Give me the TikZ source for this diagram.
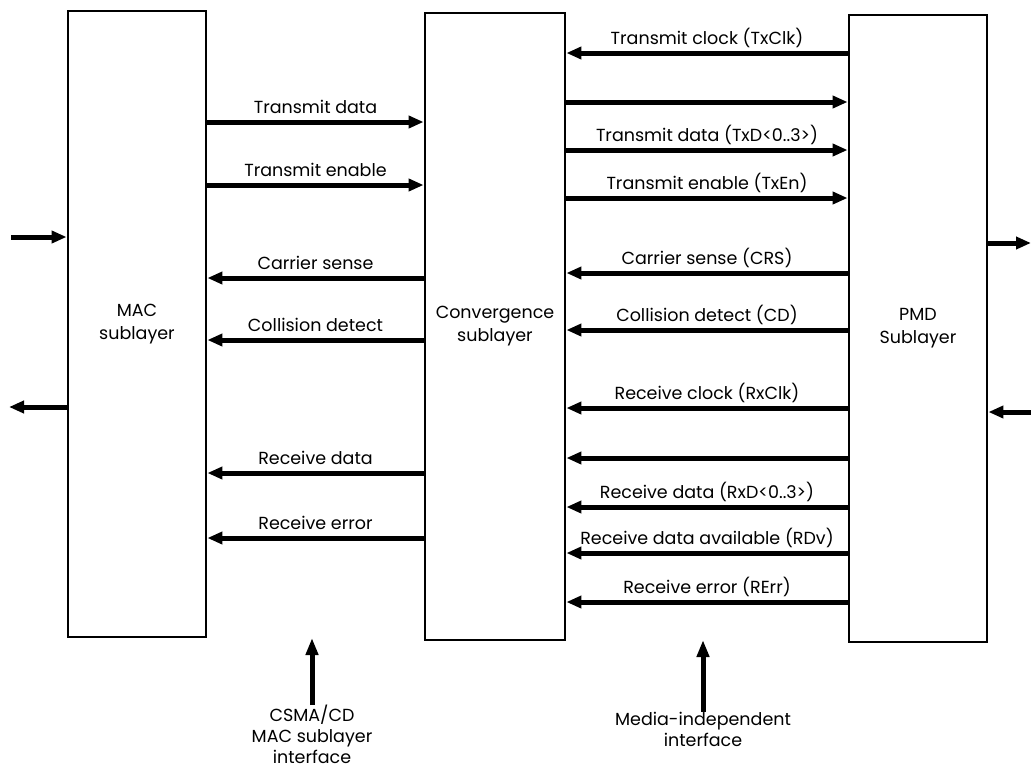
\documentclass[tikz,border=0pt]{standalone}
\usepackage{fontspec}
\setmainfont{Poppins}
\usetikzlibrary{arrows.meta}
\begin{document}
\begin{tikzpicture}[x=1pt,y=-1pt,
  box/.style={draw, line width=2.8pt, rectangle, inner sep=0pt, align=center, font=\fontsize{17.5}{23}\selectfont},
  sig/.style={line width=5pt, -{Triangle[length=15pt,width=12pt]}},
  lbl/.style={font=\fontsize{17.5}{20}\selectfont, inner sep=0pt, anchor=base, yshift=9pt},
  upsig/.style={line width=5pt, -{Triangle[length=17pt,width=12pt]}},
  note/.style={font=\fontsize{17.5}{21}\selectfont, align=center, inner sep=0pt, anchor=north}]
\useasboundingbox (0,0) rectangle (1031,772);

% three sublayer blocks
\node[box, minimum width=138pt, minimum height=626pt] (mac)  at (137,324) {MAC\\sublayer};
\node[box, minimum width=140pt, minimum height=627pt] (conv) at (495,326.5) {Convergence\\sublayer};
\node[box, minimum width=138pt, minimum height=627pt] (pmd)  at (918,328.5) {PMD\\Sublayer};

% free ends of the outer signals
\coordinate (lin)  at (11,237);
\coordinate (lout) at (9,407);
\coordinate (rout) at (1031,243);
\coordinate (rin)  at (1031,412);

\draw[sig] (lin) -- (mac.west |- lin);
\draw[sig] (mac.west |- lout) -- (lout);
\draw[sig] (pmd.east |- rout) -- (rout);
\draw[sig] (rin) -- (pmd.east |- rin);

% MAC <-> convergence sublayer interface
\draw[sig] (mac.east |- 0,122) -- node[lbl] {Transmit data} (conv.west |- 0,122);
\draw[sig] (mac.east |- 0,185) -- node[lbl] {Transmit enable} (conv.west |- 0,185);
\draw[sig] (conv.west |- 0,278) -- node[lbl] {Carrier sense} (mac.east |- 0,278);
\draw[sig] (conv.west |- 0,340) -- node[lbl] {Collision detect} (mac.east |- 0,340);
\draw[sig] (conv.west |- 0,473) -- node[lbl] {Receive data} (mac.east |- 0,473);
\draw[sig] (conv.west |- 0,538) -- node[lbl] {Receive error} (mac.east |- 0,538);

% media-independent interface
\draw[sig] (pmd.west |- 0,53) -- node[lbl] {Transmit clock (TxClk)} (conv.east |- 0,53);
\draw[sig] (conv.east |- 0,102) -- (pmd.west |- 0,102);
\draw[sig] (conv.east |- 0,150) -- node[lbl] {Transmit data (TxD<0..3>)} (pmd.west |- 0,150);
\draw[sig] (conv.east |- 0,198) -- node[lbl] {Transmit enable (TxEn)} (pmd.west |- 0,198);
\draw[sig] (pmd.west |- 0,273) -- node[lbl] {Carrier sense (CRS)} (conv.east |- 0,273);
\draw[sig] (pmd.west |- 0,330) -- node[lbl] {Collision detect (CD)} (conv.east |- 0,330);
\draw[sig] (pmd.west |- 0,408) -- node[lbl] {Receive clock (RxClk)} (conv.east |- 0,408);
\draw[sig] (pmd.west |- 0,458) -- (conv.east |- 0,458);
\draw[sig] (pmd.west |- 0,507) -- node[lbl] {Receive data (RxD<0..3>)} (conv.east |- 0,507);
\draw[sig] (pmd.west |- 0,553) -- node[lbl] {Receive data available (RDv)} (conv.east |- 0,553);
\draw[sig] (pmd.west |- 0,602) -- node[lbl] {Receive error (RErr)} (conv.east |- 0,602);

% interface callouts
\node[note] (csma) at (312,705) {CSMA/CD\\MAC sublayer\\interface};
\node[note] (mii)  at (703,712) {Media-independent\\interface};
\draw[upsig] (csma.north) -- (312,638);
\draw[upsig] (mii.north) -- (703,640);
\end{tikzpicture}
\end{document}
